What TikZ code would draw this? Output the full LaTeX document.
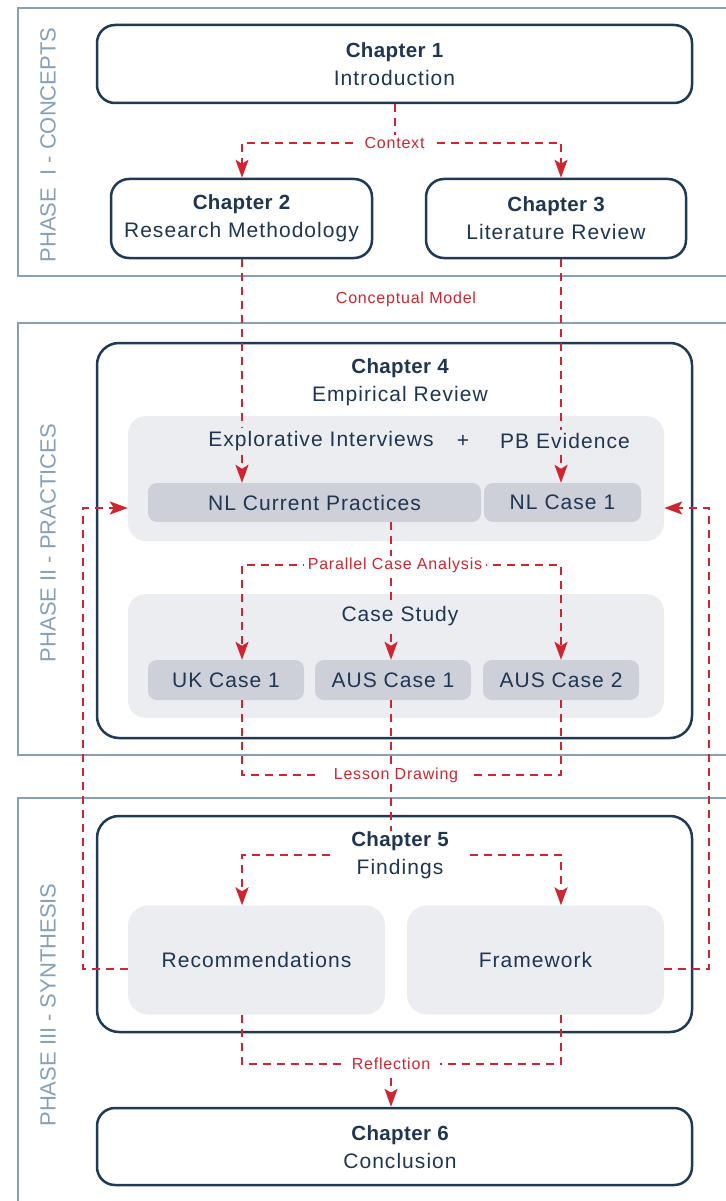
\documentclass[tikz,border=0pt]{standalone}
\usepackage{fontspec}
\setmainfont{Liberation Sans}[LetterSpace=5]
\newfontfamily\ttlfont{Liberation Sans}[LetterSpace=2]
\newfontfamily\phfont{Liberation Sans}
\usetikzlibrary{arrows.meta}
\definecolor{navy}{HTML}{1E3A56}
\definecolor{ink}{HTML}{1F3550}
\definecolor{redc}{HTML}{CF2530}
\definecolor{phasec}{HTML}{86A0B7}
\definecolor{lightf}{HTML}{ECEDF1}
\definecolor{chipf}{HTML}{CDD0D9}
\pgfdeclarelayer{back}
\pgfdeclarelayer{mid}
\pgfsetlayers{back,mid,main}
\begin{document}
\begin{tikzpicture}[x=1pt,y=-1pt,
  phase/.style={draw=phasec, line width=2pt},
  chap/.style={draw=navy, line width=2.5pt, fill=white, rounded corners=18pt, text=ink, align=center, font=\fontsize{21}{28}\selectfont},
  panel/.style={fill=lightf, rounded corners=18pt, text=ink, font=\fontsize{21}{24}\selectfont},
  chip/.style={fill=chipf, rounded corners=9pt, text=ink, font=\fontsize{21}{24}\selectfont},
  ttl/.style={text=ink, align=center, font=\fontsize{21}{28}\selectfont},
  ptxt/.style={text=ink, font=\fontsize{21}{24}\selectfont, inner sep=3pt},
  conn/.style={draw=redc, line width=2pt, dash pattern=on 8pt off 6pt},
  arr/.style={conn, -{Stealth[length=18pt,width=13pt,inset=4pt]}},
  lbl/.style={text=redc, font=\fontsize{16}{18}\selectfont, fill=white, inner xsep=10pt, inner ysep=2pt},
  phlbl/.style={text=phasec, rotate=90, font=\phfont\fontsize{22}{26}\selectfont}
]
\useasboundingbox (0,0) rectangle (725,1201);
\coordinate (colL) at (242,0);
\coordinate (colM) at (391,0);
\coordinate (colR) at (561,0);
\coordinate (loopL) at (83,508);
\coordinate (loopR) at (709,508);
\coordinate (lowL) at (83,969);
\coordinate (lowR) at (709,969);

\begin{pgfonlayer}{back}
\draw[phase] (18,8) rectangle (745,276);
\draw[phase] (18,323) rectangle (745,755);
\draw[phase] (18,798) rectangle (745,1230);
\node[chap, minimum width=595pt, minimum height=78pt] (c1) at (394.5,64) {{\ttlfont\bfseries\fontsize{20.5}{28}\selectfont Chapter 1}\\Introduction};
\node[chap, minimum width=261pt, minimum height=79pt] (c2) at (241.5,218.5) {{\ttlfont\bfseries\fontsize{20.5}{28}\selectfont Chapter 2}\\Research Methodology};
\node[chap, minimum width=260pt, minimum height=79pt] (c3) at (556,218.5) {{\ttlfont\bfseries\fontsize{20.5}{28}\selectfont Chapter 3}\\Literature Review};
\node[chap, rounded corners=22pt, minimum width=595pt, minimum height=395pt] (c4) at (394.5,540.5) {};
\node[panel, minimum width=536pt, minimum height=125pt] (ib1) at (396,478.5) {};
\node[chip, minimum width=333pt, minimum height=39pt] (nlcp) at (314.5,502.5) {NL Current Practices};
\node[chip, minimum width=157pt, minimum height=39pt] (nlc1) at (562.5,502.5) {NL Case 1};
\node[panel, minimum width=536pt, minimum height=124pt] (ib2) at (396,656) {};
\node[chip, minimum width=156pt, minimum height=40pt] (uk1) at (226,680) {UK Case 1};
\node[chip, minimum width=156pt, minimum height=40pt] (aus1) at (393,680) {AUS Case 1};
\node[chip, minimum width=156pt, minimum height=40pt] (aus2) at (561,680) {AUS Case 2};
\node[chap, rounded corners=22pt, minimum width=595pt, minimum height=216pt] (c5) at (394.5,924) {};
\node[panel, rounded corners=20pt, minimum width=257pt, minimum height=109pt] (rec) at (256.5,960) {Recommendations};
\node[panel, rounded corners=20pt, minimum width=257pt, minimum height=109pt] (fw) at (535.5,960) {Framework};
\node[chap, minimum width=595pt, minimum height=77pt] (c6) at (394.5,1146.5) {};
\end{pgfonlayer}

% text nodes
\node[ttl] (c4t) at (400,382.5) {{\ttlfont\bfseries\fontsize{20.5}{28}\selectfont Chapter 4}\\Empirical Review};
\node[ttl, fill=white, inner xsep=16pt, inner ysep=0pt] (c5t) at (400,855) {{\ttlfont\bfseries\fontsize{20.5}{28}\selectfont Chapter 5}\\Findings};
\node[ttl] (c6t) at (400,1147) {{\ttlfont\bfseries\fontsize{20.5}{28}\selectfont Chapter 6}\\Conclusion};
\node[ptxt, fill=lightf] (ei) at (321,441) {Explorative Interviews};
\node[ptxt] (plus) at (463,441) {+};
\node[ptxt, fill=lightf] (pb) at (565,441) {PB Evidence};
\node[ptxt, fill=lightf] (cs) at (400,616) {Case Study};

\node[lbl] (ctx) at (394.5,143) {Context};
\node[lbl, fill=none] (cm) at (406,299) {Conceptual Model};
\node[lbl, inner xsep=4pt] (pca) at (395,565) {Parallel Case Analysis};
\node[lbl, inner xsep=14pt] (ld) at (396,775) {Lesson Drawing};
\node[lbl] (rf) at (391,1064) {Reflection};

\node[phlbl] (ph1) at (48,145) {PHASE~~I - CONCEPTS};
\node[phlbl] (ph2) at (48,543) {PHASE II - PRACTICES};
\node[phlbl] (ph3) at (48,1005) {PHASE III - SYNTHESIS};

\begin{pgfonlayer}{mid}
% Context
\draw[conn] (c1.south) -- (ctx.center);
\draw[arr] (ctx.center) -| (c2.north -| colL);
\draw[arr] (ctx.center) -| (c3.north -| colR);
% Conceptual model
\draw[arr] (c2.south -| colL) -- (nlcp.north -| colL);
\draw[arr] (c3.south -| colR) -- (nlc1.north -| colR);
% Parallel case analysis
\draw[arr] (nlcp.south -| colM) -- (aus1.north -| colM);
\draw[arr] (pca.center) -| (uk1.north -| colL);
\draw[arr] (pca.center) -| (aus2.north -| colR);
% Lesson drawing
\draw[conn] (uk1.south -| colL) |- (ld.center);
\draw[conn] (aus2.south -| colR) |- (ld.center);
\draw[conn] (aus1.south -| colM) -- (c5t.north -| colM);
% Findings
\draw[arr] (c5t.center) -| (rec.north -| colL);
\draw[arr] (c5t.center) -| (fw.north -| colR);
% Feedback loops
\draw[arr] (rec.west |- lowL) -- (lowL) -- (loopL) -- (ib1.west |- loopL);
\draw[arr] (fw.east |- lowR) -- (lowR) -- (loopR) -- (ib1.east |- loopR);
% Reflection
\draw[conn] (rec.south -| colL) |- (rf.center);
\draw[conn] (fw.south -| colR) |- (rf.center);
\draw[arr] (rf.center) -- (c6.north -| rf.center);
\end{pgfonlayer}
\end{tikzpicture}
\end{document}
